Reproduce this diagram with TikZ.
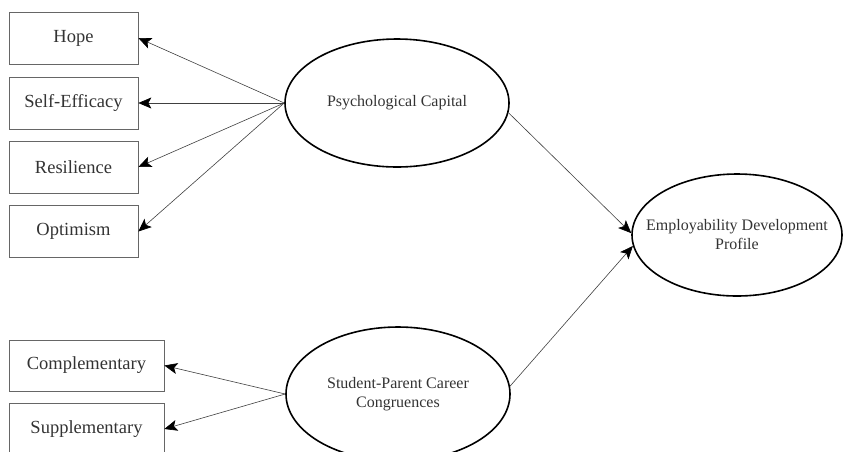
\documentclass[tikz,border=0pt]{standalone}
\usepackage{fontspec}
\setmainfont{Liberation Serif}
\usetikzlibrary{shapes.geometric,arrows.meta}

\tikzset{
  indicator/.style={draw=black!60, line width=0.7pt, minimum width=129pt, minimum height=52pt,
    inner sep=0pt, text=black!80, font=\fontsize{18.5}{22}\selectfont},
  latent/.style={ellipse, draw=black, line width=1.6pt, inner sep=0pt},
  latentlabel/.style={align=center, text=black!80, font=\fontsize{16}{19}\selectfont},
  path/.style={draw=black!75, line width=0.6pt, -{Stealth[length=13pt,width=11pt,inset=3pt,color=black]}}
}

\begin{document}
\begin{tikzpicture}[x=1pt, y=-1pt]
  \useasboundingbox (0,0) rectangle (845,451);

  % indicators
  \node [indicator](hope) at (73.5,38) {Hope};
  \node [indicator](se) at (73.5,103) {Self-Efficacy};
  \node [indicator](res) at (73.5,167) {Resilience};
  \node [indicator](opt) at (73.5,231.5) {Optimism};
  \node [indicator, minimum width=155pt, minimum height=51pt](comp) at (86.5,365.5) {Complementary};
  \node [indicator, minimum width=155pt](supp) at (86.5,429) {Supplementary};

  % latent variables
  \node [latent, minimum width=224pt, minimum height=128pt,
    label={[latentlabel]center:Psychological Capital}](pc) at (397,103) {};
  \node [latent, minimum width=224pt, minimum height=134pt,
    label={[latentlabel]center:Student-Parent Career\\Congruences}](spc) at (398,394) {};
  \node [latent, minimum width=210pt, minimum height=122pt,
    label={[latentlabel]center:Employability Development\\Profile}](edp) at (737,235) {};

  \draw [path] (pc.west) -- (hope.east);
  \draw [path] (pc.west) -- (se.east);
  \draw [path] (pc.west) -- (res.east);
  \draw [path] (pc.west) -- (opt.east);

  \draw [path] (spc.west) -- (comp.east);
  \draw [path] (spc.west) -- (supp.east);

  \draw [path] (pc.-5) -- (edp.179);
  \draw [path] (spc.4) -- (edp.186);
\end{tikzpicture}
\end{document}
